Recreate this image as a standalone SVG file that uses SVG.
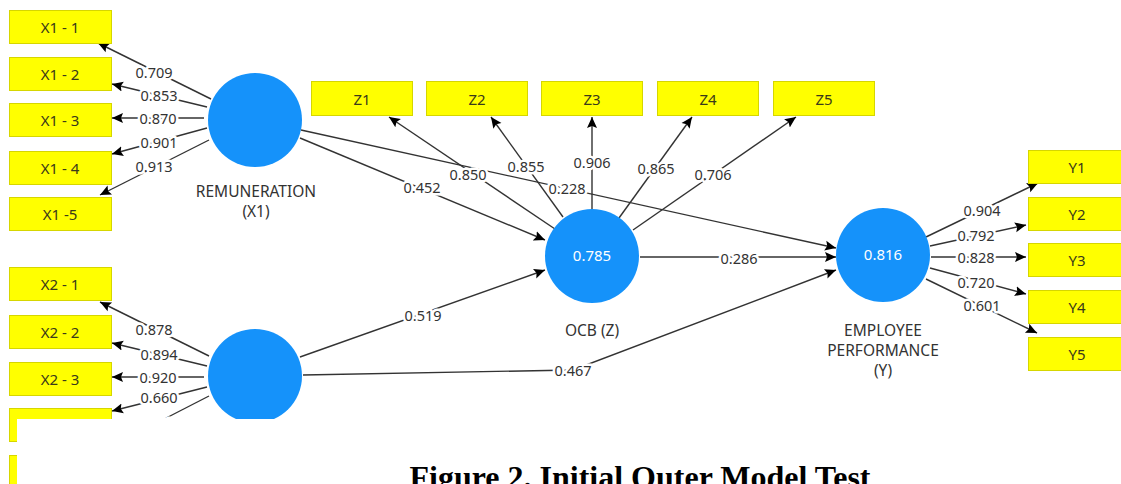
<svg xmlns="http://www.w3.org/2000/svg" width="1121" height="484" viewBox="0 0 1121 484">
<defs>
<marker id="arr" markerUnits="userSpaceOnUse" markerWidth="12" markerHeight="12" viewBox="0 0 12 12" refX="11" refY="6" orient="auto">
<path d="M0,1 L11,6 L0,11 L2,6 z" fill="#000"/>
</marker>
<style>
.box{fill:#FFFF00;stroke:#D6D600;stroke-width:1}
.bt{font-family:"Noto Sans","Open Sans","DejaVu Sans",sans-serif;font-size:15px;fill:#3a3a1a;text-anchor:middle;dominant-baseline:central}
.lv{fill:#1592FA}
.lt{font-family:"Noto Sans","Open Sans","DejaVu Sans",sans-serif;font-size:15.5px;fill:#333;text-anchor:middle}
.rv{font-family:"Noto Sans","Open Sans","DejaVu Sans",sans-serif;font-size:15px;fill:#fff;text-anchor:middle;dominant-baseline:central}
.c{stroke:#333;stroke-width:1.4;fill:none;marker-end:url(#arr)}
.w{font-family:"Noto Sans","Open Sans","DejaVu Sans",sans-serif;font-size:14.5px;fill:#333;text-anchor:middle;dominant-baseline:central;stroke:#fff;stroke-width:5;paint-order:stroke;stroke-linejoin:round}
.cap{font-family:"Liberation Serif","Times New Roman",serif;font-size:32px;font-weight:bold;fill:#000;text-anchor:middle}
</style>
</defs>
<rect width="1121" height="484" fill="#fff"/>
<g id="connectors">
<line class="c" x1="211" y1="99" x2="98" y2="43"/>
<line class="c" x1="207" y1="107" x2="112" y2="84"/>
<line class="c" x1="204" y1="118" x2="112" y2="118"/>
<line class="c" x1="207" y1="128" x2="112" y2="154"/>
<line class="c" x1="209" y1="140" x2="100" y2="195"/>
<line class="c" x1="209" y1="356" x2="100" y2="302"/>
<line class="c" x1="207" y1="366" x2="112" y2="343"/>
<line class="c" x1="204" y1="377" x2="112" y2="377"/>
<line class="c" x1="207" y1="387" x2="112" y2="411"/>
<line class="c" x1="209" y1="396" x2="100" y2="452"/>
<line class="c" x1="301" y1="130" x2="836" y2="248"/>
<line class="c" x1="300" y1="138" x2="545" y2="240"/>
<line class="c" x1="300" y1="357" x2="545" y2="270"/>
<polyline class="c" points="303,375 573,370 836,270"/>
<line class="c" x1="640" y1="257" x2="836" y2="257"/>
<line class="c" x1="555" y1="229" x2="389" y2="117"/>
<line class="c" x1="563" y1="217" x2="491" y2="117"/>
<line class="c" x1="592" y1="209" x2="592" y2="117"/>
<line class="c" x1="619" y1="218" x2="692" y2="117"/>
<line class="c" x1="633" y1="230" x2="796" y2="117"/>
<line class="c" x1="926" y1="237" x2="1038" y2="183"/>
<line class="c" x1="930" y1="246" x2="1026" y2="225"/>
<line class="c" x1="931" y1="257" x2="1026" y2="257"/>
<line class="c" x1="930" y1="268" x2="1026" y2="294"/>
<line class="c" x1="926" y1="279" x2="1037" y2="333"/>
<text class="w" x="154" y="72">0.709</text>
<text class="w" x="159" y="95">0.853</text>
<text class="w" x="158" y="118">0.870</text>
<text class="w" x="159" y="142">0.901</text>
<text class="w" x="154" y="166">0.913</text>
<text class="w" x="154" y="329">0.878</text>
<text class="w" x="159" y="354">0.894</text>
<text class="w" x="158" y="377">0.920</text>
<text class="w" x="159" y="397">0.660</text>
<text class="w" x="154" y="423">0.871</text>
<text class="w" x="468" y="174">0.850</text>
<text class="w" x="526" y="166">0.855</text>
<text class="w" x="592" y="162">0.906</text>
<text class="w" x="656" y="168">0.865</text>
<text class="w" x="713" y="174">0.706</text>
<text class="w" x="422" y="187">0.452</text>
<text class="w" x="567" y="188">0.228</text>
<text class="w" x="739" y="258">0.286</text>
<text class="w" x="423" y="315">0.519</text>
<text class="w" x="573" y="370">0.467</text>
<text class="w" x="982" y="210">0.904</text>
<text class="w" x="976" y="235">0.792</text>
<text class="w" x="976" y="257">0.828</text>
<text class="w" x="976" y="282">0.720</text>
<text class="w" x="982" y="305">0.601</text>
</g>
<g id="x1-1"><rect class="box" x="9.5" y="10.5" width="102" height="33"/><text class="bt" x="60" y="27">X1 - 1</text></g>
<g id="x1-2"><rect class="box" x="9.5" y="57.5" width="102" height="33"/><text class="bt" x="60" y="74">X1 - 2</text></g>
<g id="x1-3"><rect class="box" x="9.5" y="103.5" width="102" height="33"/><text class="bt" x="60" y="120">X1 - 3</text></g>
<g id="x1-4"><rect class="box" x="9.5" y="151.5" width="102" height="33"/><text class="bt" x="60" y="168">X1 - 4</text></g>
<g id="x1-5"><rect class="box" x="9.5" y="197.5" width="102" height="33"/><text class="bt" x="60" y="214">X1 -5</text></g>
<g id="x2-1"><rect class="box" x="9.5" y="267.5" width="102" height="33"/><text class="bt" x="60" y="284">X2 - 1</text></g>
<g id="x2-2"><rect class="box" x="9.5" y="315.5" width="102" height="33"/><text class="bt" x="60" y="332">X2 - 2</text></g>
<g id="x2-3"><rect class="box" x="9.5" y="362.5" width="102" height="33"/><text class="bt" x="60" y="379">X2 - 3</text></g>
<g id="x2-4"><rect class="box" x="9.5" y="408.5" width="102" height="33"/></g>
<g id="x2-5"><rect class="box" x="9.5" y="455.5" width="102" height="33"/></g>
<g id="z1"><rect class="box" x="311.5" y="81.5" width="101" height="34"/><text class="bt" x="362" y="99">Z1</text></g>
<g id="z2"><rect class="box" x="426.5" y="81.5" width="101" height="34"/><text class="bt" x="477" y="99">Z2</text></g>
<g id="z3"><rect class="box" x="541.5" y="81.5" width="101" height="34"/><text class="bt" x="592" y="99">Z3</text></g>
<g id="z4"><rect class="box" x="657.5" y="81.5" width="101" height="34"/><text class="bt" x="708" y="99">Z4</text></g>
<g id="z5"><rect class="box" x="773.5" y="81.5" width="101" height="34"/><text class="bt" x="824" y="99">Z5</text></g>
<g id="y1"><rect class="box" x="1028.5" y="150.5" width="100" height="33"/><text class="bt" x="1077" y="167">Y1</text></g>
<g id="y2"><rect class="box" x="1028.5" y="197.5" width="100" height="33"/><text class="bt" x="1077" y="214">Y2</text></g>
<g id="y3"><rect class="box" x="1028.5" y="243.5" width="100" height="33"/><text class="bt" x="1077" y="260">Y3</text></g>
<g id="y4"><rect class="box" x="1028.5" y="290.5" width="100" height="33"/><text class="bt" x="1077" y="307">Y4</text></g>
<g id="y5"><rect class="box" x="1028.5" y="337.5" width="100" height="33"/><text class="bt" x="1077" y="354">Y5</text></g>
<g id="remuneration"><circle class="lv" cx="255" cy="120" r="47"/><text class="lt" x="256" y="197">REMUNERATION</text><text class="lt" x="256" y="217">(X1)</text></g>
<g id="x2"><circle class="lv" cx="255" cy="376" r="47"/></g>
<g id="ocb"><circle class="lv" cx="592" cy="256" r="47"/><text class="rv" x="592" y="255">0.785</text><text class="lt" x="592" y="336">OCB (Z)</text></g>
<g id="employee-performance"><circle class="lv" cx="883" cy="255" r="47"/><text class="rv" x="883" y="254">0.816</text><text class="lt" x="883" y="336">EMPLOYEE</text><text class="lt" x="883" y="356">PERFORMANCE</text><text class="lt" x="883" y="376">(Y)</text></g>
<rect x="17" y="419" width="1104" height="65" fill="#fff"/>
<text class="cap" x="640" y="488">Figure 2. Initial Outer Model Test</text>
</svg>
